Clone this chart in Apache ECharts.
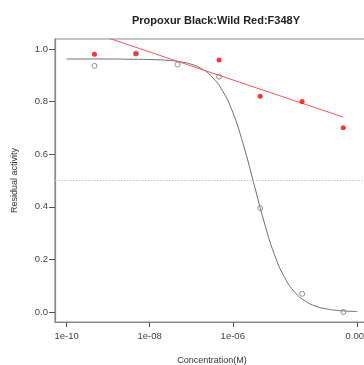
<!DOCTYPE html>
<html><head><meta charset="utf-8">
<script src="https://cdn.jsdelivr.net/npm/echarts@6/dist/echarts.min.js"></script>
<style>html,body{margin:0;padding:0;background:#fff}#c{width:364px;height:365px}</style>
</head><body><div id="c"></div>
<script>
// log10 of concentration (M)
const doseLog = [-9.33, -8.33, -7.33, -6.33, -5.34, -4.33, -3.34];
const wildActivity = [0.936, 0.983, 0.941, 0.895, 0.395, 0.069, 0.0];
const f348yLog = [-9.33, -8.33, -6.33, -5.34, -4.33, -3.34];
const f348yActivity = [0.98, 0.982, 0.958, 0.82, 0.80, 0.701];
// fitted curve for wild type
const curveLog = [-10, -9.5, -9, -8.5, -8, -7.5, -7.25, -7, -6.75, -6.5, -6.25, -6, -5.75, -5.5, -5.25, -5, -4.75, -4.5, -4.25, -4, -3.75, -3.5, -3.25, -3];
const curveVal = [0.962, 0.962, 0.962, 0.961, 0.960, 0.956, 0.951, 0.942, 0.925, 0.894, 0.842, 0.759, 0.639, 0.493, 0.345, 0.220, 0.131, 0.074, 0.041, 0.022, 0.012, 0.0064, 0.0034, 0.0018];
// linear trend for F348Y
const trendLog = [-10, -3.34];
const trendVal = [1.095, 0.741];
const xTicks = [-10, -8, -6, -3];
const xTickLabels = {'-10': '1e-10', '-8': '1e-08', '-6': '1e-06', '-3': '0.001'};
const yTicks = [0, 0.2, 0.4, 0.6, 0.8, 1.0];

const zip = (a, b) => a.map((v, i) => [v, b[i]]);
const chart = echarts.init(document.getElementById('c'), null, {renderer: 'canvas'});
const axisColor = '#8a8a8a';
const font = 'Liberation Sans, Arial, sans-serif';
chart.setOption({
  animation: false,
  title: {
    text: 'Propoxur Black:Wild Red:F348Y', left: 211, top: 10, textAlign: 'center',
    textStyle: {fontFamily: font, fontSize: 11, fontWeight: 'bold', color: '#222'}
  },
  grid: {left: 55, right: -5, top: 39, bottom: 43, outerBoundsMode: 'none', containLabel: false,
    show: true, borderColor: axisColor, borderWidth: 1.2, backgroundColor: 'transparent'},
  xAxis: {
    type: 'value', min: -10.28, max: -2.72,
    name: 'Concentration(M)', nameLocation: 'middle', nameGap: 34,
    nameTextStyle: {fontFamily: font, fontSize: 9, color: '#333'},
    axisLine: {show: true, onZero: false, lineStyle: {color: axisColor, width: 1.2}},
    axisTick: {show: true, length: 5, customValues: xTicks, lineStyle: {color: '#555'}},
    axisLabel: {customValues: xTicks, margin: 9, fontFamily: font, fontSize: 9.5, color: '#444',
      hideOverlap: false, formatter: v => xTickLabels[String(Math.round(v))] || ''},
    splitLine: {show: false}
  },
  yAxis: {
    type: 'value', min: -0.038, max: 1.038,
    name: 'Residual activity', nameLocation: 'middle', nameGap: 36,
    nameTextStyle: {fontFamily: font, fontSize: 9, color: '#333'},
    axisLine: {show: true, onZero: false, lineStyle: {color: axisColor, width: 1.2}},
    axisTick: {show: true, length: 6, customValues: yTicks, lineStyle: {color: '#555'}},
    axisLabel: {customValues: yTicks, margin: 7, fontFamily: font, fontSize: 9.5, color: '#444',
      formatter: v => v.toFixed(1)},
    splitLine: {show: false}
  },
  series: [
    {
      type: 'line', data: zip(curveLog, curveVal), smooth: true, symbol: 'none',
      lineStyle: {color: '#6e6e6e', width: 1}, z: 2,
      markLine: {silent: true, symbol: 'none', label: {show: false},
        lineStyle: {color: '#c4c4c4', type: [1.5, 1.5], width: 1},
        data: [{yAxis: 0.5}]}
    },
    {
      type: 'line', data: zip(trendLog, trendVal), symbol: 'none', clip: true,
      lineStyle: {color: '#ff5555', width: 1}, z: 2
    },
    {
      type: 'scatter', data: zip(f348yLog, f348yActivity), symbol: 'circle', symbolSize: 5,
      itemStyle: {color: '#ff0000'}, z: 4
    },
    {
      type: 'scatter', data: zip(doseLog, wildActivity), symbol: 'circle', symbolSize: 5,
      itemStyle: {color: 'transparent', borderColor: '#777', borderWidth: 1}, z: 5
    }
  ]
});
</script></body></html>
